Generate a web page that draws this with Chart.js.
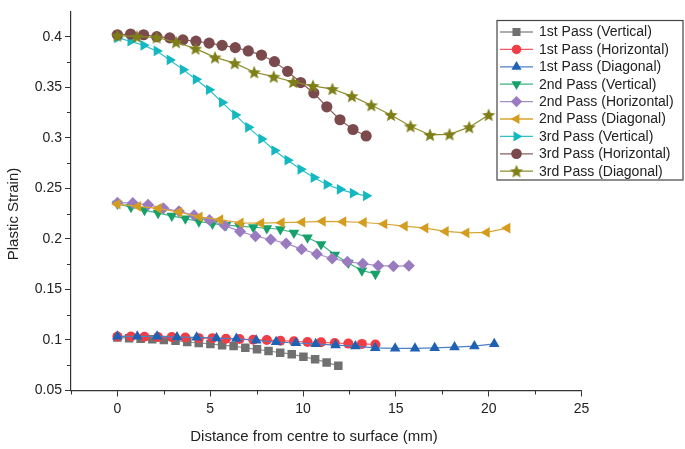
<!DOCTYPE html>
<html>
<head>
<meta charset="utf-8">
<script src="https://cdn.jsdelivr.net/npm/chart.js@4.4.1/dist/chart.umd.min.js"></script>
<style>
  html, body { margin: 0; padding: 0; background: #fff; }
  canvas { display: block; }
</style>
</head>
<body>
<canvas id="strainChart" width="685" height="449"></canvas>
<script>
// tick values
const xTicks = [0, 5, 10, 15, 20, 25];
const xMinorTicks = [-2.5, 2.5, 7.5, 12.5, 17.5, 22.5];
const yTicks = [0.05, 0.1, 0.15, 0.2, 0.25, 0.3, 0.35, 0.4];
const yMinorTicks = [0.075, 0.125, 0.175, 0.225, 0.275, 0.325, 0.375];

const seriesLabels = [
  '1st Pass (Vertical)', '1st Pass (Horizontal)', '1st Pass (Diagonal)',
  '2nd Pass (Vertical)', '2nd Pass (Horizontal)', '2nd Pass (Diagonal)',
  '3rd Pass (Vertical)', '3rd Pass (Horizontal)', '3rd Pass (Diagonal)'
];

// 1st pass
const pass1VertX = [0, 0.63, 1.25, 1.88, 2.5, 3.13, 3.76, 4.38, 5.01, 5.64, 6.26, 6.89, 7.52, 8.14, 8.77, 9.39, 10.02, 10.65, 11.27, 11.9];
const pass1VertY = [0.1025, 0.1018, 0.1012, 0.1006, 0.0999, 0.0993, 0.098, 0.097, 0.0961, 0.0948, 0.0939, 0.0922, 0.0907, 0.0891, 0.0874, 0.0859, 0.0833, 0.081, 0.0778, 0.0744];
const pass1HorX = [0, 0.73, 1.46, 2.19, 2.93, 3.66, 4.39, 5.12, 5.85, 6.58, 7.32, 8.05, 8.78, 9.51, 10.24, 10.97, 11.71, 12.44, 13.17, 13.9];
const pass1HorY = [0.1035, 0.1035, 0.1032, 0.1028, 0.1028, 0.1025, 0.1018, 0.1018, 0.1012, 0.1009, 0.1003, 0.0999, 0.0993, 0.0987, 0.098, 0.0977, 0.097, 0.0964, 0.0961, 0.0955];
const pass1DiagX = [0, 1.07, 2.14, 3.21, 4.27, 5.34, 6.41, 7.48, 8.55, 9.62, 10.68, 11.75, 12.82, 13.89, 14.96, 16.03, 17.09, 18.16, 19.23, 20.3];
const pass1DiagY = [0.1035, 0.1035, 0.1035, 0.1028, 0.1025, 0.1018, 0.1012, 0.0996, 0.098, 0.097, 0.0961, 0.0948, 0.0939, 0.0922, 0.0916, 0.0916, 0.0922, 0.0929, 0.0939, 0.0961];

// 2nd pass
const pass2VertX = [0, 0.73, 1.46, 2.19, 2.93, 3.66, 4.39, 5.12, 5.85, 6.58, 7.32, 8.05, 8.78, 9.51, 10.24, 10.97, 11.71, 12.44, 13.17, 13.9];
const pass2VertY = [0.2346, 0.2314, 0.2285, 0.2255, 0.2228, 0.22, 0.2172, 0.215, 0.2135, 0.2125, 0.2115, 0.2105, 0.2095, 0.206, 0.2013, 0.1946, 0.1842, 0.1762, 0.1687, 0.1653];
const pass2HorX = [0, 0.83, 1.65, 2.48, 3.31, 4.13, 4.96, 5.78, 6.61, 7.44, 8.26, 9.09, 9.92, 10.74, 11.57, 12.39, 13.22, 14.05, 14.87, 15.7];
const pass2HorY = [0.2356, 0.2355, 0.2337, 0.2304, 0.2273, 0.2234, 0.2186, 0.2131, 0.2074, 0.2026, 0.1994, 0.1955, 0.1898, 0.185, 0.1806, 0.1774, 0.1754, 0.1735, 0.173, 0.1733];
const pass2DiagX = [0, 1.11, 2.21, 3.32, 4.42, 5.53, 6.63, 7.74, 8.84, 9.95, 11.05, 12.16, 13.26, 14.37, 15.47, 16.58, 17.68, 18.79, 19.89, 21.0];
const pass2DiagY = [0.2343, 0.2322, 0.2301, 0.2265, 0.2218, 0.219, 0.2158, 0.2155, 0.216, 0.2165, 0.2173, 0.217, 0.2162, 0.2147, 0.2126, 0.2107, 0.2074, 0.206, 0.2064, 0.2107];

// 3rd pass
const pass3VertX = [0, 0.71, 1.41, 2.12, 2.82, 3.53, 4.23, 4.94, 5.64, 6.35, 7.05, 7.76, 8.46, 9.17, 9.87, 10.58, 11.28, 11.99, 12.69, 13.4];
const pass3VertY = [0.3988, 0.3955, 0.3914, 0.3859, 0.377, 0.3674, 0.3578, 0.3475, 0.335, 0.3226, 0.3103, 0.2989, 0.2874, 0.2778, 0.2688, 0.2606, 0.2538, 0.249, 0.2452, 0.2426];
const pass3HorX = [0, 0.71, 1.41, 2.12, 2.82, 3.53, 4.23, 4.94, 5.64, 6.35, 7.05, 7.76, 8.46, 9.17, 9.87, 10.58, 11.28, 11.99, 12.69, 13.4];
const pass3HorY = [0.4019, 0.4026, 0.4019, 0.4, 0.3988, 0.3968, 0.3955, 0.3936, 0.3914, 0.3892, 0.3859, 0.3818, 0.3753, 0.3657, 0.3546, 0.3443, 0.3306, 0.3178, 0.3082, 0.3018];
const pass3DiagX = [0, 1.05, 2.11, 3.16, 4.21, 5.26, 6.32, 7.37, 8.42, 9.47, 10.53, 11.58, 12.63, 13.68, 14.74, 15.79, 16.84, 17.89, 18.95, 20.0];
const pass3DiagY = [0.401, 0.4, 0.3993, 0.3945, 0.3882, 0.3795, 0.3738, 0.3648, 0.3604, 0.3552, 0.3513, 0.3482, 0.3412, 0.3322, 0.3226, 0.3114, 0.3028, 0.3034, 0.3105, 0.3226];

const seriesX = [pass1VertX, pass1HorX, pass1DiagX, pass2VertX, pass2HorX, pass2DiagX, pass3VertX, pass3HorX, pass3DiagX];
const seriesY = [pass1VertY, pass1HorY, pass1DiagY, pass2VertY, pass2HorY, pass2DiagY, pass3VertY, pass3HorY, pass3DiagY];

// styles
const markerColors = ['#707070', '#ef3e46', '#1f62b4', '#15a169', '#9a7bc0', '#d59d1f', '#13b8c1', '#7a4a4d', '#7f7f19'];
const lineColors = ['#909090', '#f05a60', '#4d80c4', '#3db27f', '#a68dc8', '#d9a535', '#2fc0c8', '#8a6062', '#8c8c2c'];
const axisColor = '#333';
const fontFamily = "'Liberation Sans', Arial, sans-serif";

function makeStar(color, r) {
  const c = document.createElement('canvas');
  const s = Math.ceil(r * 2 + 2);
  c.width = s; c.height = s;
  const g = c.getContext('2d');
  g.fillStyle = color;
  g.beginPath();
  for (let i = 0; i < 10; i++) {
    const rr = i % 2 ? r * 0.45 : r;
    const a = -Math.PI / 2 + i * Math.PI / 5;
    const px = s / 2 + rr * Math.cos(a), py = s / 2 + 0.6 + rr * Math.sin(a);
    i ? g.lineTo(px, py) : g.moveTo(px, py);
  }
  g.closePath();
  g.fill();
  return c;
}

const pointStyles = ['rect', 'circle', 'triangle', 'triangle', 'rectRot', 'triangle', 'triangle', 'circle', makeStar(markerColors[8], 7)];
const pointRotations = [0, 0, 0, 180, 0, -90, 90, 0, 0];
const pointRadii = [6, 5, 6.2, 6.2, 6, 6.2, 6.2, 5.6, 7];

const datasets = seriesLabels.map((label, i) => ({
  label,
  data: seriesX[i].map((x, j) => ({ x, y: seriesY[i][j] })),
  showLine: true,
  borderColor: lineColors[i],
  borderWidth: 1.2,
  pointStyle: pointStyles[i],
  rotation: pointRotations[i],
  pointRadius: pointRadii[i],
  pointBackgroundColor: markerColors[i],
  pointBorderColor: markerColors[i],
  pointBorderWidth: 0,
  order: seriesLabels.length - i
}));

function marker(ctx, i, x, y) {
  ctx.fillStyle = markerColors[i];
  ctx.strokeStyle = markerColors[i];
  Chart.helpers.drawPoint(ctx, {
    pointStyle: pointStyles[i], radius: pointRadii[i] * 0.95, rotation: pointRotations[i], borderWidth: 0
  }, x, y);
}

const decor = {
  id: 'decor',
  afterDraw(chart) {
    const { ctx, chartArea, scales: { x, y } } = chart;
    ctx.save();
    ctx.strokeStyle = axisColor;
    ctx.lineWidth = 1;
    xMinorTicks.forEach(v => {
      const px = Math.round(x.getPixelForValue(v)) + 0.5;
      ctx.beginPath(); ctx.moveTo(px, chartArea.bottom); ctx.lineTo(px, chartArea.bottom + 4); ctx.stroke();
    });
    yMinorTicks.forEach(v => {
      const py = Math.round(y.getPixelForValue(v)) + 0.5;
      ctx.beginPath(); ctx.moveTo(chartArea.left, py); ctx.lineTo(chartArea.left - 4, py); ctx.stroke();
    });

    // axis titles
    ctx.fillStyle = '#222';
    ctx.font = '15px ' + fontFamily;
    ctx.textAlign = 'center';
    ctx.textBaseline = 'middle';
    ctx.fillText('Distance from centre to surface (mm)', 314, 437);
    ctx.save();
    ctx.translate(14, 214);
    ctx.rotate(-Math.PI / 2);
    ctx.fillText('Plastic Strain)', 0, 0);
    ctx.restore();

    // legend
    const lx = 497, ly = 20.5, lw = 186, lh = 159.5, row = 17.4;
    ctx.fillStyle = '#fff';
    ctx.fillRect(lx, ly, lw, lh);
    ctx.strokeStyle = '#444';
    ctx.lineWidth = 1.2;
    ctx.strokeRect(lx, ly, lw, lh);
    ctx.font = '14px ' + fontFamily;
    ctx.textAlign = 'left';
    seriesLabels.forEach((label, i) => {
      const cy = ly + 11.5 + i * row;
      ctx.strokeStyle = lineColors[i];
      ctx.lineWidth = 1.3;
      ctx.beginPath(); ctx.moveTo(lx + 3, cy); ctx.lineTo(lx + 36, cy); ctx.stroke();
      marker(ctx, i, lx + 19.5, cy);
      ctx.fillStyle = '#222';
      ctx.fillText(label, lx + 42, cy + 0.5);
    });
    ctx.restore();
  }
};

new Chart(document.getElementById('strainChart'), {
  type: 'scatter',
  data: { datasets },
  options: {
    responsive: false,
    animation: false,
    layout: { padding: { top: 0, right: 103.5, bottom: 0, left: 0 } },
    plugins: { legend: { display: false }, tooltip: { enabled: false } },
    scales: {
      x: {
        type: 'linear',
        min: -2.5,
        max: 25,
        afterBuildTicks: s => { s.ticks = xTicks.map(v => ({ value: v })); },
        afterFit: s => { s.height = 58.5; },
        border: { display: true, color: axisColor, width: 1.2 },
        grid: { display: true, drawOnChartArea: false, drawTicks: true, tickLength: 6, color: axisColor, tickWidth: 1 },
        ticks: { color: '#222', font: { family: fontFamily, size: 14 }, padding: 4, maxRotation: 0 }
      },
      y: {
        type: 'linear',
        min: 0.05,
        max: 0.425,
        afterBuildTicks: s => { s.ticks = yTicks.map(v => ({ value: v })); },
        afterFit: s => { s.width = 71; },
        border: { display: true, color: axisColor, width: 1.2 },
        grid: { display: true, drawOnChartArea: false, drawTicks: true, tickLength: 6, color: axisColor, tickWidth: 1 },
        ticks: { color: '#222', font: { family: fontFamily, size: 14 }, padding: 3, callback: v => String(+v.toFixed(3)) }
      }
    }
  },
  plugins: [decor]
});
</script>
</body>
</html>
